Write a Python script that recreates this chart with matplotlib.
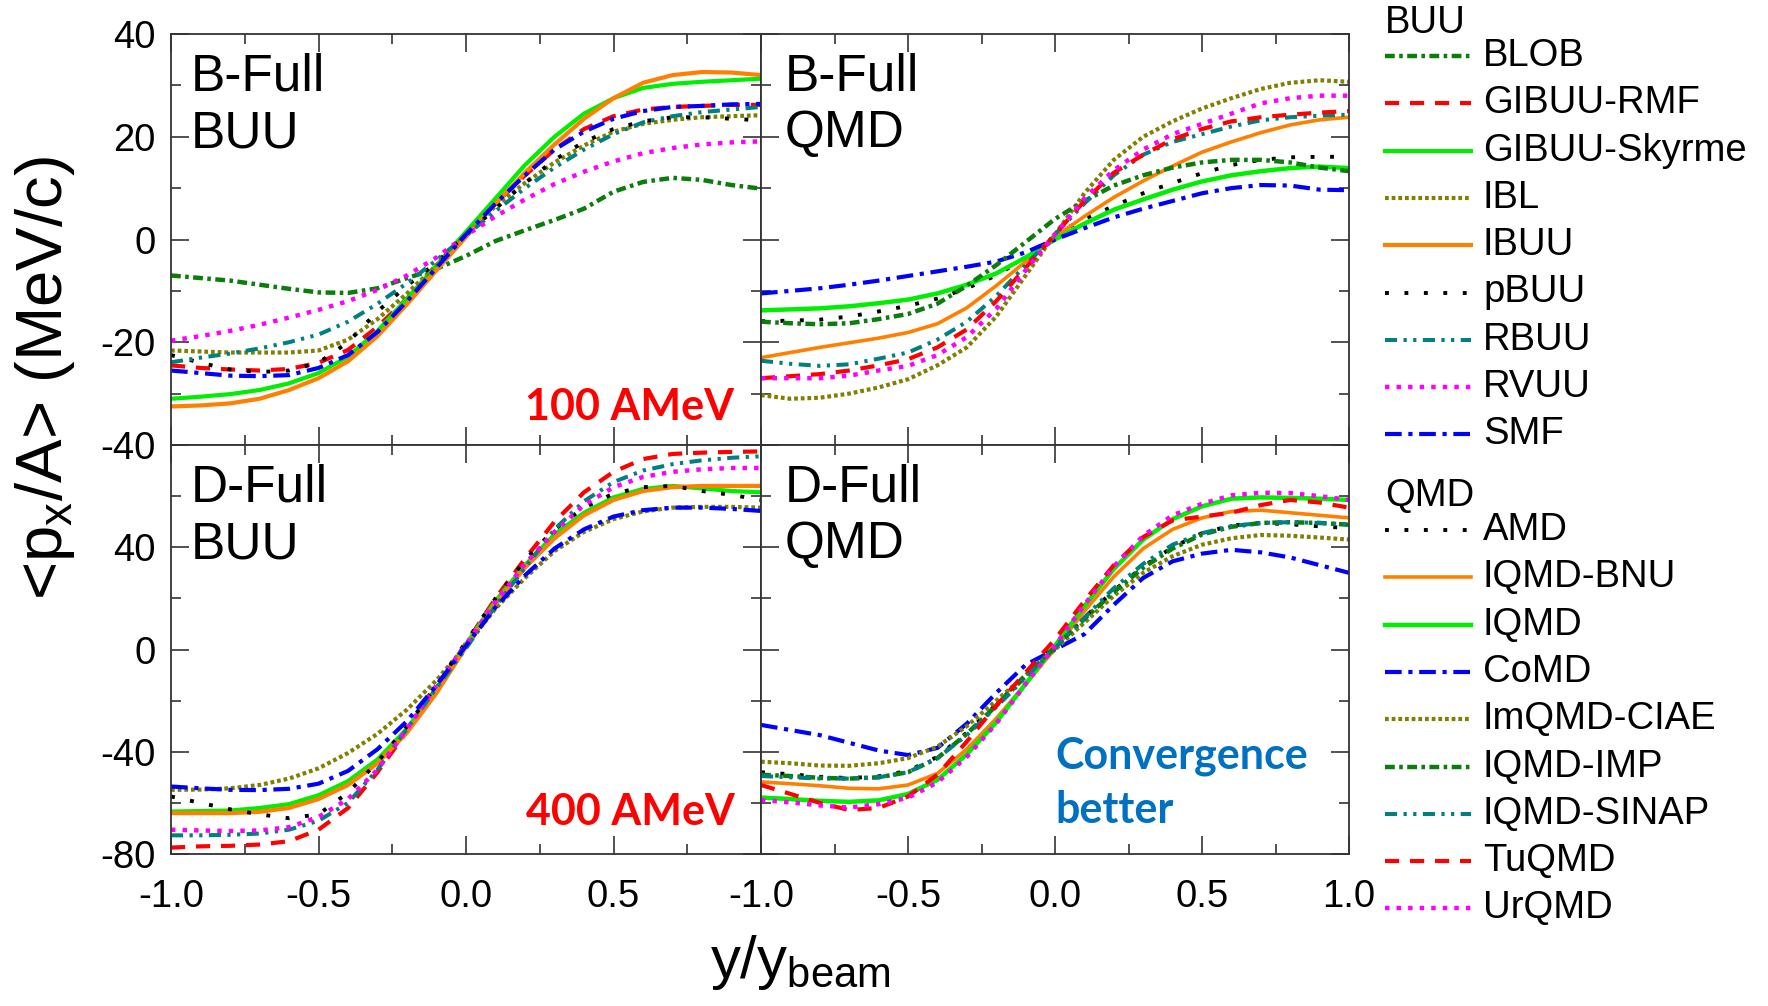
import matplotlib
matplotlib.use("Agg")
import matplotlib.pyplot as plt
from matplotlib.lines import Line2D
from matplotlib.ticker import MultipleLocator, FixedLocator, FuncFormatter

plt.rcParams['font.family'] = ['Liberation Sans', 'DejaVu Sans']
plt.rcParams['mathtext.default'] = 'regular'

# ---------------- data ----------------
y_red = [-1.0, -0.9, -0.8, -0.7, -0.6, -0.5, -0.4, -0.3, -0.2, -0.1, 0.0,
         0.1, 0.2, 0.3, 0.4, 0.5, 0.6, 0.7, 0.8, 0.9, 1.0]

buu_models = ["BLOB", "GIBUU-RMF", "GIBUU-Skyrme", "IBL", "IBUU", "pBUU", "RBUU", "RVUU", "SMF"]
qmd_models = ["AMD", "IQMD-BNU", "IQMD", "CoMD", "ImQMD-CIAE", "IQMD-IMP", "IQMD-SINAP", "TuQMD", "UrQMD"]

# B-Full, BUU, 100 AMeV
b_buu_blob = [-7.0, -7.5, -8.0, -8.8, -9.6, -10.3, -10.4, -9.5, -7.5, -5.7, -3.2, -0.3, 1.8, 3.8, 6.0, 9.3, 11.2, 12.0, 11.6, 10.6, 9.9]
b_buu_gibuu_rmf = [-24.5, -25.0, -25.3, -25.5, -25.2, -24.0, -21.5, -17.0, -11.5, -5.5, 1.0, 7.0, 12.5, 17.5, 21.5, 24.0, 25.3, 25.8, 26.0, 26.2, 26.2]
b_buu_gibuu_sky = [-31.0, -30.6, -30.1, -29.3, -28.0, -26.0, -22.8, -17.8, -11.5, -5.0, 1.5, 8.0, 14.5, 20.0, 24.5, 27.5, 29.5, 30.3, 30.7, 31.0, 31.3]
b_buu_ibl = [-21.6, -21.8, -22.0, -22.0, -22.0, -21.6, -19.5, -15.5, -10.5, -5.0, 1.0, 6.5, 11.0, 15.0, 18.3, 21.0, 22.5, 23.3, 23.8, 24.0, 24.2]
b_buu_ibuu = [-32.5, -32.3, -31.9, -31.0, -29.3, -27.0, -23.7, -18.8, -12.6, -6.0, 0.5, 7.0, 13.0, 18.5, 23.5, 27.5, 30.5, 32.0, 32.6, 32.5, 32.0]
b_buu_pbuu = [-22.5, -24.0, -25.3, -25.8, -25.5, -24.0, -20.0, -14.0, -9.0, -4.5, 1.0, 6.0, 11.0, 15.5, 19.0, 21.5, 23.0, 23.8, 23.8, 23.5, 23.2]
b_buu_rbuu = [-23.9, -23.0, -22.2, -21.2, -20.0, -18.5, -16.0, -12.5, -8.5, -4.0, 0.8, 5.5, 10.0, 14.0, 17.5, 20.5, 22.8, 24.0, 24.8, 25.3, 25.8]
b_buu_rvuu = [-19.7, -18.8, -17.8, -16.6, -15.2, -13.7, -12.0, -9.8, -7.0, -3.5, 0.8, 4.5, 7.8, 10.8, 13.2, 15.2, 16.8, 17.8, 18.5, 18.9, 19.1]
b_buu_smf = [-25.5, -26.0, -26.5, -26.6, -26.4, -25.0, -22.5, -18.0, -12.0, -5.5, 1.0, 7.0, 12.5, 17.5, 21.0, 23.5, 25.0, 25.8, 26.0, 26.3, 26.4]

# B-Full, QMD, 100 AMeV
b_qmd_amd = [-15.9, -15.8, -15.6, -15.0, -14.0, -12.9, -11.5, -9.5, -7.0, -3.5, 1.0, 4.0, 6.5, 9.0, 11.0, 12.9, 14.5, 15.5, 16.0, 16.1, 16.1]
b_qmd_iqmd_bnu = [-23.0, -22.0, -21.0, -20.1, -19.2, -18.1, -16.4, -13.3, -9.0, -4.3, 0.5, 4.5, 8.2, 11.4, 14.3, 17.0, 19.0, 20.8, 22.3, 23.3, 23.8]
b_qmd_iqmd = [-13.8, -13.6, -13.4, -13.0, -12.4, -11.7, -10.5, -8.8, -6.6, -3.5, 0.0, 3.1, 5.8, 7.8, 9.7, 11.3, 12.5, 13.3, 13.9, 14.2, 13.9]
b_qmd_comd = [-10.5, -10.0, -9.5, -8.8, -8.0, -7.1, -6.2, -5.3, -4.3, -2.5, 0.0, 2.2, 4.3, 6.0, 7.5, 9.0, 10.0, 10.6, 10.5, 9.7, 9.6]
b_qmd_imqmd_ciae = [-30.3, -31.0, -30.8, -30.0, -28.8, -27.2, -24.5, -21.0, -15.0, -7.0, 1.0, 9.0, 15.5, 20.0, 23.0, 25.5, 27.5, 29.3, 30.5, 31.0, 30.7]
b_qmd_iqmd_imp = [-16.0, -16.3, -16.5, -16.3, -15.5, -14.5, -12.5, -9.0, -5.0, -0.5, 4.0, 7.5, 10.5, 12.5, 14.0, 15.0, 15.5, 15.5, 15.0, 14.0, 13.3]
b_qmd_iqmd_sinap = [-23.6, -24.2, -24.6, -24.3, -23.2, -22.0, -19.5, -16.0, -11.0, -5.0, 1.0, 7.0, 12.5, 16.5, 19.0, 20.5, 22.0, 23.2, 23.8, 24.1, 24.3]
b_qmd_tuqmd = [-27.0, -26.6, -26.2, -25.5, -24.5, -23.3, -21.0, -17.5, -12.0, -5.5, 1.0, 7.5, 13.0, 16.5, 19.5, 21.5, 23.0, 23.8, 24.3, 24.7, 25.0]
b_qmd_urqmd = [-27.0, -27.0, -27.0, -26.5, -25.5, -24.6, -22.5, -19.0, -13.5, -6.0, 1.0, 8.0, 13.5, 17.5, 20.5, 22.5, 24.5, 26.5, 27.5, 28.0, 28.0]

# D-Full, BUU, 400 AMeV (no BLOB curve)
d_buu_gibuu_rmf = [-77.5, -77.0, -76.8, -76.3, -75.0, -70.5, -62.0, -48.0, -32.0, -15.0, 2.5, 20.0, 35.5, 50.0, 61.5, 69.5, 74.5, 76.5, 77.0, 77.3, 77.5]
d_buu_gibuu_sky = [-63.4, -63.2, -63.0, -62.0, -60.5, -57.0, -51.5, -43.0, -31.0, -15.5, 2.0, 19.0, 33.0, 45.0, 53.5, 59.5, 62.8, 64.0, 63.0, 62.0, 61.5]
d_buu_ibl = [-54.9, -54.8, -54.3, -53.0, -50.5, -46.5, -40.5, -33.0, -23.5, -12.0, 1.5, 16.0, 28.0, 38.5, 46.0, 51.0, 54.0, 55.5, 55.8, 55.8, 55.5]
d_buu_ibuu = [-64.0, -64.0, -64.0, -63.5, -62.0, -58.5, -53.0, -44.5, -32.5, -17.0, 1.0, 18.0, 32.0, 43.5, 52.5, 58.5, 62.0, 63.5, 64.0, 64.0, 64.0]
d_buu_pbuu = [-57.5, -60.0, -62.5, -64.5, -66.0, -64.5, -56.0, -44.0, -30.0, -14.0, 3.0, 20.0, 35.0, 47.0, 55.5, 61.0, 63.5, 64.0, 62.0, 60.5, 58.5]
d_buu_rbuu = [-72.7, -72.7, -72.5, -72.0, -70.5, -67.0, -60.0, -47.0, -31.0, -15.0, 0.5, 17.0, 32.0, 47.0, 58.0, 65.5, 70.0, 72.5, 74.0, 75.0, 75.6]
d_buu_rvuu = [-70.5, -70.8, -71.0, -70.8, -69.5, -65.5, -58.5, -47.0, -31.0, -14.0, 2.0, 18.5, 33.5, 46.0, 56.5, 63.5, 67.5, 69.5, 70.5, 71.0, 71.0]
d_buu_smf = [-53.6, -54.3, -54.9, -55.0, -54.5, -52.5, -47.5, -39.0, -28.0, -14.0, 1.5, 16.5, 29.0, 39.5, 47.0, 52.0, 54.5, 55.5, 55.5, 55.0, 54.2]

# D-Full, QMD, 400 AMeV
d_qmd_amd = [-48.0, -48.8, -49.8, -50.3, -49.6, -47.5, -42.0, -32.5, -21.5, -10.0, 1.5, 12.5, 23.0, 32.5, 40.0, 45.5, 48.5, 49.5, 49.0, 48.2, 47.5]
d_qmd_iqmd_bnu = [-51.8, -52.5, -53.3, -54.3, -54.5, -53.0, -48.5, -39.0, -27.0, -13.5, 0.3, 15.0, 28.5, 39.5, 47.0, 51.5, 54.0, 54.5, 53.5, 52.5, 51.5]
d_qmd_iqmd = [-57.9, -58.5, -59.2, -59.6, -59.0, -56.5, -51.0, -41.0, -28.5, -13.5, 1.5, 17.0, 31.5, 43.0, 51.0, 56.0, 59.0, 59.5, 59.3, 59.0, 58.5]
d_qmd_comd = [-29.5, -31.5, -33.5, -36.5, -39.5, -41.3, -38.5, -29.0, -17.0, -6.0, 0.0, 6.0, 17.5, 28.0, 34.5, 37.5, 39.0, 38.0, 36.0, 33.0, 30.0]
d_qmd_imqmd_ciae = [-43.9, -44.5, -45.4, -45.5, -44.5, -42.5, -38.0, -30.0, -20.0, -10.0, 0.0, 10.5, 21.0, 30.0, 36.5, 41.0, 43.5, 44.8, 44.5, 43.8, 43.0]
d_qmd_iqmd_imp = [-49.0, -49.5, -50.2, -50.5, -50.0, -48.0, -42.5, -33.0, -22.0, -10.5, 1.0, 12.0, 22.5, 32.0, 39.5, 45.0, 48.0, 49.5, 49.8, 49.5, 48.8]
d_qmd_iqmd_sinap = [-49.5, -50.0, -50.5, -50.5, -50.0, -48.0, -42.5, -33.5, -22.5, -11.0, 0.5, 12.5, 24.0, 33.5, 41.0, 45.5, 48.3, 49.5, 49.8, 49.5, 49.0]
d_qmd_tuqmd = [-53.0, -56.5, -60.0, -62.8, -62.0, -57.5, -49.0, -36.0, -22.0, -9.0, 4.0, 19.0, 33.0, 44.0, 50.5, 52.0, 53.5, 56.5, 58.5, 57.5, 55.5]
d_qmd_urqmd = [-58.9, -59.8, -61.0, -61.8, -60.5, -58.0, -52.0, -42.0, -29.0, -13.5, 1.5, 17.5, 32.5, 44.5, 52.5, 57.0, 60.3, 61.3, 61.2, 60.0, 58.5]

xticks = [-1.0, -0.5, 0.0, 0.5, 1.0]
yticks_top = [-40, -20, 0, 20, 40]
yticks_bot = [-80, -40, 0, 40, 80]

# ---------------- styles ----------------
DKGREEN = "#0a7d0a"
STY = {
    "BLOB": dict(color=DKGREEN, ls=(0, (2.2, 1.0, 0.8, 1.0)), lw=3.2),
    "GIBUU-RMF": dict(color="#ff0000", ls=(0, (3.4, 2.6)), lw=3.0),
    "GIBUU-Skyrme": dict(color="#00ee00", ls="-", lw=3.0),
    "IBL": dict(color="#808000", ls=(0, (0.9, 0.7)), lw=3.0),
    "IBUU": dict(color="#ff8000", ls="-", lw=3.0),
    "pBUU": dict(color="#000000", ls=(0, (1.0, 4.0)), lw=2.8),
    "RBUU": dict(color="#008080", ls=(0, (3.0, 1.6, 0.8, 1.6, 0.8, 1.6)), lw=2.9),
    "RVUU": dict(color="#ff00ff", ls=(0, (1.0, 1.6)), lw=3.2),
    "SMF": dict(color="#0000ff", ls=(0, (4.0, 1.6, 1.0, 1.6)), lw=3.0),
    "AMD": dict(color="#000000", ls=(0, (1.0, 4.0)), lw=2.8),
    "IQMD-BNU": dict(color="#ff8000", ls="-", lw=2.6),
    "IQMD": dict(color="#00ee00", ls="-", lw=3.2),
    "CoMD": dict(color="#0000ff", ls=(0, (4.0, 1.6, 1.0, 1.6)), lw=3.0),
    "ImQMD-CIAE": dict(color="#808000", ls=(0, (0.9, 0.7)), lw=3.0),
    "IQMD-IMP": dict(color=DKGREEN, ls=(0, (2.2, 1.0, 0.8, 1.0)), lw=3.2),
    "IQMD-SINAP": dict(color="#008080", ls=(0, (3.0, 1.6, 0.8, 1.6, 0.8, 1.6)), lw=2.9),
    "TuQMD": dict(color="#ff0000", ls=(0, (3.4, 2.6)), lw=3.0),
    "UrQMD": dict(color="#ff00ff", ls=(0, (1.0, 1.6)), lw=3.2),
}

panels = [
    (0, 0, "B-Full\nBUU", dict(zip(buu_models, [b_buu_blob, b_buu_gibuu_rmf, b_buu_gibuu_sky, b_buu_ibl, b_buu_ibuu, b_buu_pbuu, b_buu_rbuu, b_buu_rvuu, b_buu_smf])), (-40, 40), yticks_top, 10),
    (0, 1, "B-Full\nQMD", dict(zip(qmd_models, [b_qmd_amd, b_qmd_iqmd_bnu, b_qmd_iqmd, b_qmd_comd, b_qmd_imqmd_ciae, b_qmd_iqmd_imp, b_qmd_iqmd_sinap, b_qmd_tuqmd, b_qmd_urqmd])), (-40, 40), yticks_top, 10),
    (1, 0, "D-Full\nBUU", dict(zip(buu_models[1:], [d_buu_gibuu_rmf, d_buu_gibuu_sky, d_buu_ibl, d_buu_ibuu, d_buu_pbuu, d_buu_rbuu, d_buu_rvuu, d_buu_smf])), (-80, 80), yticks_bot, 20),
    (1, 1, "D-Full\nQMD", dict(zip(qmd_models, [d_qmd_amd, d_qmd_iqmd_bnu, d_qmd_iqmd, d_qmd_comd, d_qmd_imqmd_ciae, d_qmd_iqmd_imp, d_qmd_iqmd_sinap, d_qmd_tuqmd, d_qmd_urqmd])), (-80, 80), yticks_bot, 20),
]

W, H = 1768, 1006
fig = plt.figure(figsize=(W / 100, H / 100), dpi=100)

lefts = [171 / W, 761 / W]
widths = [590 / W, 588 / W]
bottoms = [1 - 445 / H, 1 - 854 / H]
heights = [411 / H, 409 / H]

TICK_FS = 27.5
LABEL_FS = 37

for row, col, label, data, ylim, yt, minor in panels:
    ax = fig.add_axes([lefts[col], bottoms[row], widths[col], heights[row]])
    for name, vals in data.items():
        s = STY[name]
        ax.plot(y_red, vals, color=s["color"], linestyle=s["ls"], lw=s["lw"],
                solid_joinstyle="round")
    ax.set_xlim(-1.0, 1.0)
    ax.set_ylim(*ylim)
    ax.xaxis.set_major_locator(FixedLocator(xticks))
    ax.xaxis.set_minor_locator(MultipleLocator(0.25))
    ax.yaxis.set_major_locator(FixedLocator(yt))
    ax.yaxis.set_minor_locator(MultipleLocator(minor))
    ax.tick_params(which="both", direction="in", top=True, right=True,
                   width=1.2, color="#333333", labelsize=TICK_FS)
    ax.tick_params(which="major", length=13)
    ax.tick_params(which="minor", length=7)
    ax.tick_params(axis="y", pad=11)
    ax.tick_params(axis="x", pad=18)
    for sp in ax.spines.values():
        sp.set_linewidth(1.3)
        sp.set_color("#333333")
    if row == 0:
        ax.tick_params(labelbottom=False)
    else:
        if col == 0:
            ax.xaxis.set_major_formatter(FuncFormatter(lambda v, p: "" if abs(v - 1.0) < 1e-9 else f"{v:.1f}"))
        else:
            ax.xaxis.set_major_formatter(FuncFormatter(lambda v, p: f"{v:.1f}"))
    if col == 1:
        ax.tick_params(labelleft=False)
    else:
        if row == 1:
            ax.yaxis.set_major_formatter(FuncFormatter(lambda v, p: "" if abs(v - 80) < 1e-9 else f"{v:.0f}"))
        else:
            ax.yaxis.set_major_formatter(FuncFormatter(lambda v, p: f"{v:.0f}"))
    tx = 0.033 if col == 0 else 0.040
    ax.text(tx, 0.955, label, transform=ax.transAxes, ha="left", va="top",
            fontsize=LABEL_FS, linespacing=1.2, color="black")
    if row == 0 and col == 0:
        ax.text(0.955, 0.06, "100 AMeV", transform=ax.transAxes, ha="right", va="baseline",
                fontsize=31, fontweight="bold", color="#ff0000", family=["Lato", "DejaVu Sans"])
    if row == 1 and col == 0:
        ax.text(0.955, 0.07, "400 AMeV", transform=ax.transAxes, ha="right", va="baseline",
                fontsize=31, fontweight="bold", color="#ff0000", family=["Lato", "DejaVu Sans"])
    if row == 1 and col == 1:
        ax.text(0.500, 0.21, "Convergence", transform=ax.transAxes, ha="left", va="baseline",
                fontsize=31, fontweight="bold", color="#0070c0", family=["Lato", "DejaVu Sans"])
        ax.text(0.500, 0.075, "better", transform=ax.transAxes, ha="left", va="baseline",
                fontsize=31, fontweight="bold", color="#0070c0", family=["Lato", "DejaVu Sans"])

# axis titles
fig.text(45 / W, 1 - 378 / H, r"<p$_{x}$/A> (MeV/c)", rotation=90, ha="center", va="center",
         fontsize=47)
fig.text(800 / W, 1 - 962 / H, r"y/y$_{beam}$", ha="center", va="center", fontsize=43)

# legend (drawn manually)
def legend_block(title, names, y_title, y_first, x0=1385, x1=1471, xt=1483, dy=47.3):
    fig.text(x0 / W, 1 - y_title / H, title, ha="left", va="center", fontsize=TICK_FS)
    for i, n in enumerate(names):
        yc = y_first + i * dy
        s = STY[n]
        fig.add_artist(Line2D([x0 / W, x1 / W], [1 - yc / H, 1 - yc / H],
                              color=s["color"], linestyle=s["ls"], lw=s["lw"],
                              transform=fig.transFigure))
        fig.text(xt / W, 1 - yc / H, n, ha="left", va="center", fontsize=TICK_FS)

legend_block("BUU", buu_models, 23, 56)
legend_block("QMD", qmd_models, 496, 530)

fig.savefig("out.png", dpi=100)
